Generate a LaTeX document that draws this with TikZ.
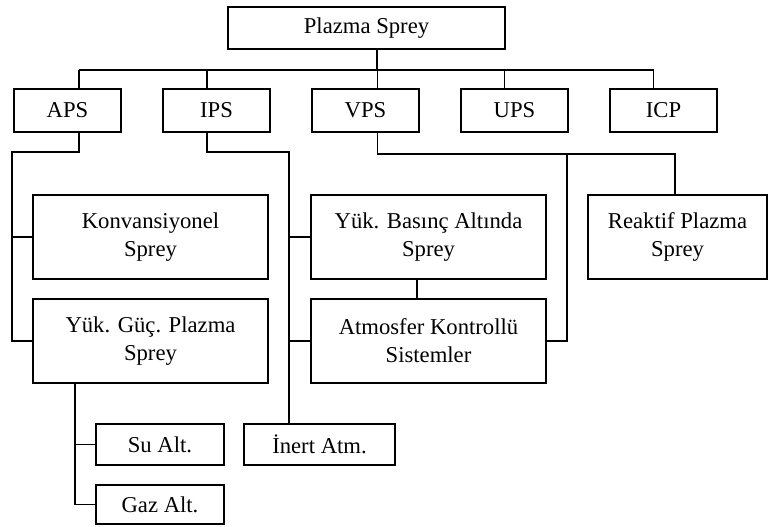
\documentclass[tikz,border=0pt]{standalone}
\usepackage{fontspec}
\setmainfont{Liberation Serif}
\usetikzlibrary{positioning}
\tikzset{
  box/.style={draw, line width=1.4pt, align=center, inner sep=0pt,
    font=\fontsize{17}{21}\selectfont},
  topbox/.style={box, minimum width=80.25pt, minimum height=32.25pt},
  bigbox/.style={box, minimum width=176.25pt, minimum height=63pt},
  smallbox/.style={box, minimum height=30.75pt},
  link/.style={line width=1.4pt},
}
\begin{document}
\begin{tikzpicture}[x=0.75pt, y=-0.75pt, node distance=111.75pt]
  \useasboundingbox (0,0) rectangle (771,527);

  \node [box, minimum width=207.75pt, minimum height=31.5pt] (root) at (366.5,28) {Plazma Sprey};

  \node [topbox] (APS) at (67.5,110.5) {APS};
  \node [topbox, right of=APS] (IPS) {IPS};
  \node [topbox, right of=IPS] (VPS) {VPS};
  \node [topbox, right of=VPS] (UPS) {UPS};
  \node [topbox, right of=UPS] (ICP) {ICP};

  \node [bigbox] (konv) at (150.5,237) {Konvansiyonel\\Sprey};
  \node [bigbox] (gucp) at (150.5,341) {Yük. Güç. Plazma\\Sprey};
  \node [bigbox] (basinc) at (428.5,237) {Yük. Basınç Altında\\Sprey};
  \node [bigbox] (atmos) at (428.5,341) {Atmosfer Kontrollü\\Sistemler};
  \node [bigbox, minimum width=134.25pt] (reaktif) at (677.5,237) {Reaktif Plazma\\Sprey};

  \node [smallbox, minimum width=96pt] (su) at (160,444.5) {Su Alt.};
  \node [smallbox, minimum width=96pt, minimum height=29.25pt] (gaz) at (160,504.5) {Gaz Alt.};
  \node [smallbox, minimum width=113.25pt] (inert) at (319.5,444.5) {İnert Atm.};

  % rails
  \coordinate (bus) at (0,70);
  \coordinate (lrail) at (12,152);
  \coordinate (mrail) at (289,152);
  \coordinate (vrail) at (567,154);
  \coordinate (rrail) at (675,154);

  % top level
  \draw [link] ([xshift=8pt]root.south) -- ([xshift=8pt]root.south |- bus);
  \foreach \n/\s in {APS/8.6pt, IPS/-7pt, VPS/9pt, UPS/-7.5pt, ICP/-7.5pt}
    \draw [link] ([xshift=\s]\n.north) -- ([xshift=\s]\n.north |- bus);
  \draw [link] ([xshift=8.6pt]APS.north |- bus) -- ([xshift=-7.5pt]ICP.north |- bus);

  % APS
  \draw [link] ([xshift=8.6pt]APS.south) |- (lrail) |- (gucp.west);
  \draw [link] (lrail |- konv.west) -- (konv.west);
  \draw [link] ([xshift=-56.6pt]gucp.south) |- (gaz.west);
  \draw [link] ([xshift=-56.6pt]gucp.south |- su.west) -- (su.west);

  % IPS
  \draw [link] ([xshift=-7pt]IPS.south) |- (mrail) -- (mrail |- inert.north);
  \draw [link] (mrail |- basinc.west) -- (basinc.west);
  \draw [link] (mrail |- atmos.west) -- (atmos.west);

  % VPS
  \draw [link] ([xshift=9pt]VPS.south) |- (rrail) -- (rrail |- reaktif.north);
  \draw [link] (vrail) |- (atmos.east);
  \draw [link] ([xshift=-8.6pt]basinc.south) -- ([xshift=-8.6pt]basinc.south |- atmos.north);
\end{tikzpicture}
\end{document}
